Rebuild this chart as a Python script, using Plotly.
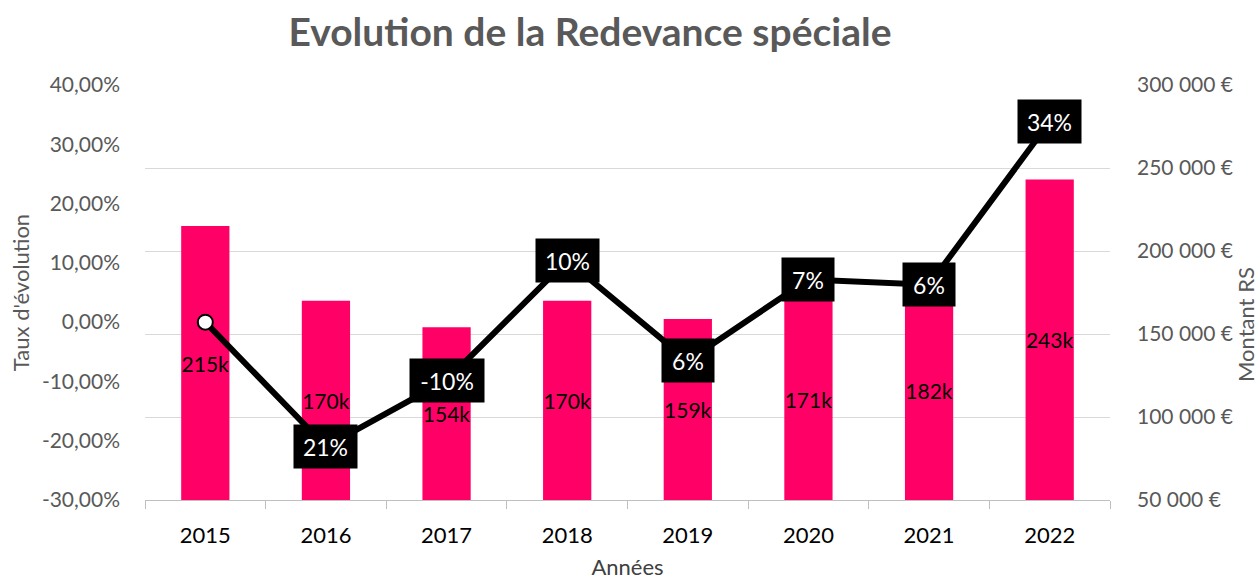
import plotly.graph_objects as go

years = ["2015", "2016", "2017", "2018", "2019", "2020", "2021", "2022"]
montant = [215000, 170000, 154000, 170000, 159000, 171000, 182000, 243000]
montant_labels = ["215k", "170k", "154k", "170k", "159k", "171k", "182k", "243k"]
evolution = [0.0, -21.0, -9.8, 10.4, -6.5, 7.2, 6.3, 33.8]
evolution_labels = ["", "21%", "-10%", "10%", "6%", "7%", "6%", "34%"]
pct_ticks = [-30, -20, -10, 0, 10, 20, 30, 40]
money_axis_min, money_axis_max = 50000, 300000

FONT = "Lato"
GRAY = "#595959"

fig = go.Figure()

# bars start at the bottom of the money axis (as in the original chart)
fig.add_trace(go.Bar(
    x=years, y=[m - money_axis_min for m in montant], base=money_axis_min,
    yaxis="y",
    marker=dict(color="#FF0066", line=dict(width=0)),
    text=montant_labels, textposition="inside", insidetextanchor="middle",
    constraintext="none", textangle=0,
    textfont=dict(family=FONT, size=21, color="black"),
    hoverinfo="skip", showlegend=False,
))

fig.add_trace(go.Scatter(
    x=years, y=evolution, yaxis="y2", mode="lines",
    line=dict(color="black", width=6),
    hoverinfo="skip", showlegend=False, cliponaxis=False,
))

fig.add_trace(go.Scatter(
    x=years[:1], y=evolution[:1], yaxis="y2", mode="markers",
    marker=dict(size=15, color="white", opacity=1,
                line=dict(color="black", width=2)),
    hoverinfo="skip", showlegend=False, cliponaxis=False,
))

for i, (v, lab) in enumerate(zip(evolution, evolution_labels)):
    if not lab:
        continue
    fig.add_annotation(
        x=i, y=v, xref="x", yref="y2", text=lab, showarrow=False,
        bgcolor="black", font=dict(family=FONT, size=23, color="white"),
        width=len(lab) * 11 + 30, height=43, borderpad=0,
        xanchor="center", yanchor="middle",
    )

fig.add_annotation(
    text="Montant RS", textangle=-90, showarrow=False,
    xref="paper", yref="paper", x=(1245 - 145) / 965, y=(500 - 325) / 415,
    xanchor="center", yanchor="middle",
    font=dict(family=FONT, size=22, color=GRAY),
)

fig.update_layout(
    width=1260, height=580,
    margin=dict(l=145, r=150, t=85, b=80, autoexpand=False),
    paper_bgcolor="white", plot_bgcolor="white",
    separators=", ",
    bargap=0.6,
    font=dict(family=FONT, color=GRAY),
    title=dict(text="<b>Evolution de la Redevance spéciale</b>",
               font=dict(family=FONT, size=39, color=GRAY),
               x=590 / 1260, xanchor="center", xref="container",
               y=1 - 32 / 580, yanchor="middle", yref="container",
               automargin=False),
    xaxis=dict(
        type="category", range=[-0.5, len(years) - 0.5], automargin=False,
        showline=True, linecolor="#bfbfbf", linewidth=1,
        ticks="outside", tickson="boundaries", ticklen=8, tickcolor="#bfbfbf",
        tickfont=dict(family=FONT, size=22, color="black"),
        tickangle=0, ticklabelstandoff=16,
        title=dict(text="Années", font=dict(family=FONT, size=22, color="#404040"),
                   standoff=24),
        showgrid=False,
    ),
    yaxis=dict(
        side="right", range=[money_axis_min, money_axis_max], dtick=50000,
        tickformat=",d", automargin=False,
        ticksuffix=" €", showgrid=True, gridcolor="#d9d9d9", gridwidth=1,
        zeroline=False, showline=False,
        tickfont=dict(family=FONT, size=21, color=GRAY),
        ticklabelstandoff=26,
    ),
    yaxis2=dict(
        overlaying="y", side="left", range=[-30, 40], automargin=False,
        tickvals=pct_ticks,
        ticktext=[f"{t:.2f}".replace(".", ",") + "%" for t in pct_ticks],
        showgrid=False, zeroline=False, showline=False,
        tickfont=dict(family=FONT, size=21, color=GRAY),
        ticklabelstandoff=24,
        title=dict(text="Taux d'évolution", font=dict(family=FONT, size=22, color=GRAY),
                   standoff=6),
    ),
)

fig.write_html("out.html", config={"displayModeBar": False},
               post_script="document.body.style.margin='0';")
